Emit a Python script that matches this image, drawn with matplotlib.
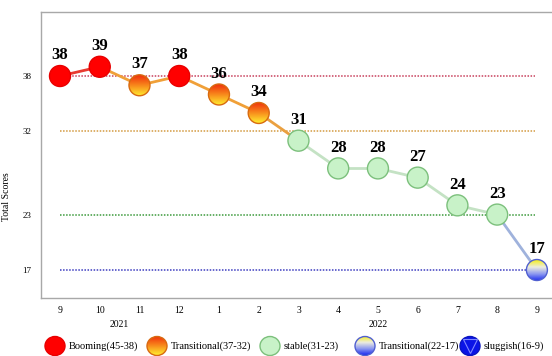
import numpy as np
import matplotlib.pyplot as plt
from matplotlib.colors import LinearSegmentedColormap
from matplotlib.patches import Ellipse
from matplotlib.collections import LineCollection

plt.rcParams['font.family'] = ['Liberation Serif', 'DejaVu Serif']

# monthly total scores, Sep 2021 - Sep 2022
months = ['9', '10', '11', '12', '1', '2', '3', '4', '5', '6', '7', '8', '9']
scores = [38, 39, 37, 38, 36, 34, 31, 28, 28, 27, 24, 23, 17]
stages = ['boom', 'boom', 'trans_hi', 'boom', 'trans_hi', 'trans_hi',
          'stable', 'stable', 'stable', 'stable', 'stable', 'stable', 'trans_lo']
years = ['2021', '2022']
year_pos = [1.5, 8]
thresholds = [38, 32, 23, 17]
legend_labels = ['Booming(45-38)', 'Transitional(37-32)', 'stable(31-23)',
                 'Transitional(22-17)', 'sluggish(16-9)']

thr_colors = ['#c8405c', '#d39a40', '#3c9a3c', '#3c3cc0']
seg_colors = ['#e83a30', '#f0a038', '#f0a038', '#f0a038', '#f0a038', '#eaa040',
              '#c4e2c4', '#c4e2c4', '#c4e2c4', '#c4e2c4', '#c4e2c4', '#9fb2dc']

# colour lists run top -> bottom of the marker
cmap_hi = LinearSegmentedColormap.from_list('hi', ['#f0300c', '#f88a1c', '#ffec30'])
cmap_lo = LinearSegmentedColormap.from_list('lo', ['#f4ee20', '#ecece0', '#8c98f0', '#1c2cf0'])
styles = {
    'boom': dict(face='#ff0000', edge='#e80000'),
    'trans_hi': dict(cmap=cmap_hi, edge='#d86a10'),
    'stable': dict(face='#c8f2c8', edge='#7cc07c'),
    'trans_lo': dict(cmap=cmap_lo, edge='#5060d0'),
    'slug': dict(face='#0a14e6', edge='#0a14c0'),
}

W, H = 552, 356
fig = plt.figure(figsize=(W / 100, H / 100), dpi=100)
ax = fig.add_axes([41 / W, 58 / H, 1 - 41 / W, 286 / H])
ax.set_xlim(-0.478, 12.38)
ax.set_ylim(13.97, 44.93)

ax.spines['right'].set_visible(False)
for s in ['left', 'top', 'bottom']:
    ax.spines[s].set_color('#a8a8a8')
    ax.spines[s].set_linewidth(1.0)

x = np.arange(len(scores))
ax.set_xticks(x, months, fontsize=7)
ax.set_yticks(thresholds, [str(t) for t in thresholds], fontsize=6.5)
ax.tick_params(length=0)
ax.tick_params(axis='x', pad=6)
ax.tick_params(axis='y', pad=7)
ax.set_ylabel('Total Scores', fontsize=7)
ax.yaxis.set_label_coords(-0.059, 0.353)

for yr, xp in zip(years, year_pos):
    ax.text(xp, -0.094, yr, transform=ax.get_xaxis_transform(),
            ha='center', va='center', fontsize=7)

# dotted stage boundaries
for t, c in zip(thresholds, thr_colors):
    ax.plot([0, 11.95], [t, t], linestyle=(0, (1, 1)), color=c, lw=1.1, zorder=1)

pts = np.column_stack([x, scores])
segs = np.stack([pts[:-1], pts[1:]], axis=1)
ax.add_collection(LineCollection(segs, colors=seg_colors, linewidths=2.0, zorder=2))

# marker radius in data units (circles in pixel space)
r_px = 10.5
p0 = ax.transData.transform((0, 0))
p1 = ax.transData.transform((1, 1))
rx = r_px / (p1[0] - p0[0])
ry = r_px / (p1[1] - p0[1])
grad = np.linspace(0, 1, 64).reshape(-1, 1)


def draw_marker(axis, cx, cy, dx, dy, st, z=4):
    if 'cmap' in st:
        im = axis.imshow(grad[::-1], cmap=st['cmap'], extent=[cx - dx, cx + dx, cy - dy, cy + dy],
                         origin='lower', aspect='auto', interpolation='bilinear', zorder=z)
        clip = Ellipse((cx, cy), 2 * dx, 2 * dy, transform=axis.transData)
        im.set_clip_path(clip)
        axis.add_patch(Ellipse((cx, cy), 2 * dx, 2 * dy, fill=False,
                               ec=st['edge'], lw=1.0, zorder=z + 0.1))
    else:
        axis.add_patch(Ellipse((cx, cy), 2 * dx, 2 * dy, fc=st['face'],
                               ec=st['edge'], lw=1.0, zorder=z))


for xi, yi, stg in zip(x, scores, stages):
    draw_marker(ax, xi, yi, rx, ry, styles[stg])
    ax.annotate(str(yi), (xi, yi), xytext=(0, 15), textcoords='offset points',
                ha='center', va='center', fontsize=12, fontweight='bold', zorder=6)

ax.set_xlim(-0.478, 12.38)
ax.set_ylim(13.97, 44.93)

# legend row along the bottom, in pixel units
lax = fig.add_axes([0, 0, 1, 30 / H])
lax.set_xlim(0, W)
lax.set_ylim(0, 30)
lax.axis('off')
leg_x = [55, 157, 270, 365, 470]
leg_stages = ['boom', 'trans_hi', 'stable', 'trans_lo', 'slug']
for lx, lab, stg in zip(leg_x, legend_labels, leg_stages):
    draw_marker(lax, lx, 10, 10, 9.5, styles[stg])
    lax.text(lx + 14, 10, lab, ha='left', va='center', fontsize=7.5)
lax.plot([leg_x[-1]], [10.5], marker='v', ms=10, mfc='none', mec='#8088ff', mew=0.8, zorder=5)
lax.set_xlim(0, W)
lax.set_ylim(0, 30)

fig.savefig('out.png', dpi=100)
